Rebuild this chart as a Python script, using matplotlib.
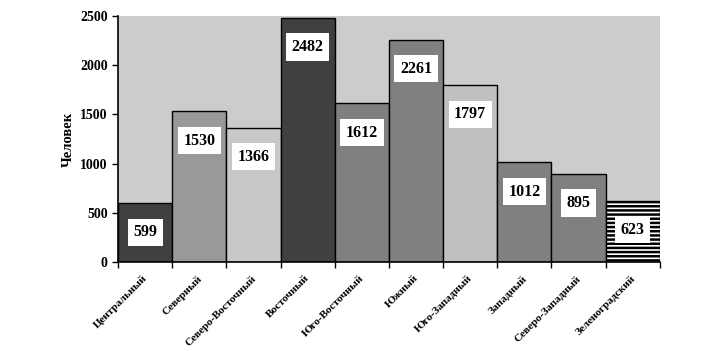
import matplotlib
matplotlib.use('Agg')
import matplotlib.pyplot as plt

districts = ['Центральный', 'Северный', 'Северо-Восточный', 'Восточный', 'Юго-Восточный',
             'Южный', 'Юго-Западный', 'Западный', 'Северо-Западный', 'Зеленоградский']
people = [599, 1530, 1366, 2482, 1612, 2261, 1797, 1012, 895, 623]
colors = ['#404040', '#999999', '#c8c8c8', '#404040', '#808080',
          '#808080', '#c0c0c0', '#808080', '#808080', '#ffffff']
hatches = [None] * 9 + ['----']

plt.rcParams.update({
    'font.family': 'Liberation Serif',
    'font.weight': 'bold',
    'hatch.linewidth': 1.8,
    'hatch.color': 'black',
})

fig = plt.figure(figsize=(7.25, 3.51), dpi=100)
ax = fig.add_axes([0.163, 0.254, 0.747, 0.700])
ax.set_facecolor('#cccccc')

xs = list(range(len(districts)))
bars = ax.bar(xs, people, width=1.0, color=colors, edgecolor='black', linewidth=1.0)
for b, h in zip(bars, hatches):
    if h:
        b.set_hatch(h)

for x, v in zip(xs, people):
    ax.annotate(str(v), xy=(x, v), xytext=(0, -21), textcoords='offset points',
                ha='center', va='center', fontsize=11.5, fontweight='bold',
                bbox=dict(boxstyle='square,pad=0.35', facecolor='white', edgecolor='none'))

ax.set_xlim(-0.5, len(districts) - 0.5)
ax.set_ylim(0, 2500)
ax.set_yticks([0, 500, 1000, 1500, 2000, 2500])
ax.tick_params(axis='y', labelsize=10, length=4, width=1)

ax.set_xticks([x - 0.5 for x in xs] + [len(xs) - 0.5])
ax.set_xticklabels([])
ax.tick_params(axis='x', length=4, width=1)
for x, name in zip(xs, districts):
    ax.text(x - 0.05, -120, name, rotation=45, ha='right', va='top', fontsize=8,
            fontweight='bold', rotation_mode='anchor')

ax.set_ylabel('Человек', fontsize=10.5, fontweight='bold', labelpad=4)
for s in ['top', 'right']:
    ax.spines[s].set_visible(False)
ax.spines['left'].set_linewidth(1.2)
ax.spines['bottom'].set_linewidth(1.2)
for t in ax.get_yticklabels():
    t.set_fontweight('bold')

fig.savefig('out.png', dpi=100)
